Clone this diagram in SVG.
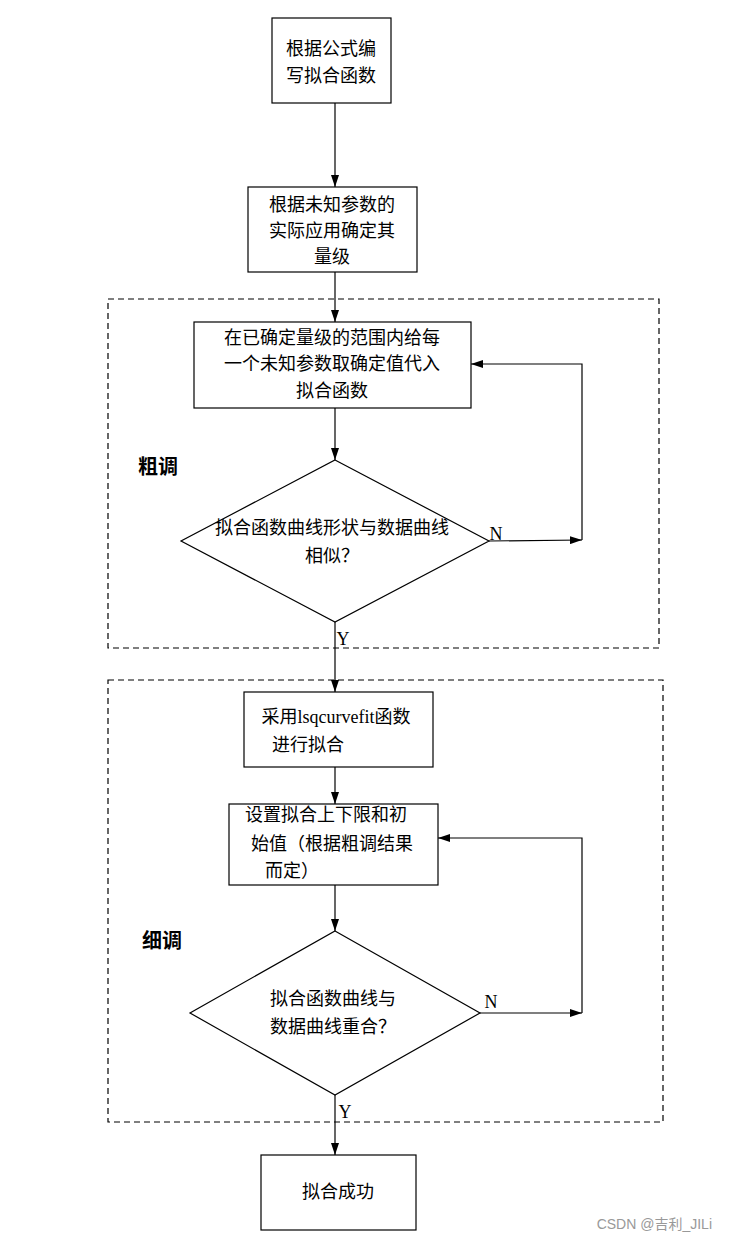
<svg xmlns="http://www.w3.org/2000/svg" width="729" height="1240" viewBox="0 0 729 1240">
<style>
.b{fill:#fff;stroke:#000;stroke-width:1.2}
.d{fill:none;stroke:#000;stroke-width:1.2;stroke-dasharray:6,4}
.l{fill:none;stroke:#000;stroke-width:1.2}
text{font-family:"Liberation Serif","Noto Sans CJK SC",serif;font-size:18px;fill:#000;text-anchor:middle}
.bold{font-weight:bold;font-size:20px}
</style>
<defs><marker id="a" markerWidth="12" markerHeight="8" refX="12" refY="4" orient="auto" markerUnits="userSpaceOnUse"><path d="M0,0L12,4L0,8z"/></marker></defs>
<rect width="729" height="1240" fill="#fff"/>
<rect class="d" x="108" y="299" width="551" height="349"/>
<rect class="d" x="108" y="680" width="555" height="442"/>
<g id="connectors">
<line class="l" x1="335" y1="103" x2="335" y2="187" marker-end="url(#a)"/>
<line class="l" x1="335" y1="272" x2="335" y2="322" marker-end="url(#a)"/>
<line class="l" x1="335" y1="408" x2="335" y2="460" marker-end="url(#a)"/>
<polyline class="l" points="489,541 582,540" marker-end="url(#a)"/>
<polyline class="l" points="582,540 582,364 471,364" marker-end="url(#a)"/>
<line class="l" x1="335" y1="622" x2="335" y2="692" marker-end="url(#a)"/>
<line class="l" x1="335" y1="767" x2="335" y2="804" marker-end="url(#a)"/>
<line class="l" x1="335" y1="885" x2="335" y2="931" marker-end="url(#a)"/>
<polyline class="l" points="480,1013 582,1013" marker-end="url(#a)"/>
<polyline class="l" points="582,1013 582,838 438,838" marker-end="url(#a)"/>
<line class="l" x1="335" y1="1095" x2="335" y2="1155" marker-end="url(#a)"/>
<text x="496" y="540">N</text><text x="343" y="645">Y</text>
<text x="491" y="1008">N</text><text x="345" y="1118">Y</text>
</g>
<g id="n1"><rect class="b" x="272" y="18" width="119" height="85"/><text x="331" y="55">根据公式编</text><text x="331" y="82">写拟合函数</text></g>
<g id="n2"><rect class="b" x="248" y="187" width="169" height="85"/><text x="332" y="211">根据未知参数的</text><text x="332" y="237">实际应用确定其</text><text x="332" y="263">量级</text></g>
<g id="n3"><rect class="b" x="194" y="322" width="277" height="86"/><text x="332" y="344">在已确定量级的范围内给每</text><text x="332" y="370">一个未知参数取确定值代入</text><text x="332" y="397">拟合函数</text></g>
<g id="d1"><polygon class="b" points="335,460 489,541 335,622 181,541"/><text x="332" y="534">拟合函数曲线形状与数据曲线</text><text x="332" y="562">相似？</text></g>
<text class="bold" x="158" y="474">粗调</text>
<g id="n4"><rect class="b" x="244" y="692" width="189" height="75"/><text x="336" y="723">采用lsqcurvefit函数</text><text x="308" y="751">进行拟合</text></g>
<g id="n5"><rect class="b" x="229" y="804" width="209" height="81"/><text x="326" y="821">设置拟合上下限和初</text><text x="332" y="850">始值（根据粗调结果</text><text x="292" y="877">而定）</text></g>
<g id="d2"><polygon class="b" points="335,931 480,1013 335,1095 190,1013"/><text x="333" y="1005">拟合函数曲线与</text><text x="333" y="1033">数据曲线重合？</text></g>
<text class="bold" x="162" y="948">细调</text>
<g id="n6"><rect class="b" x="261" y="1155" width="155" height="75"/><text x="338" y="1198">拟合成功</text></g>
<text x="712" y="1229" style="font-size:14px;fill:#999;text-anchor:end;font-family:'Liberation Sans','Noto Sans CJK SC',sans-serif">CSDN @吉利_JILi</text>
</svg>
